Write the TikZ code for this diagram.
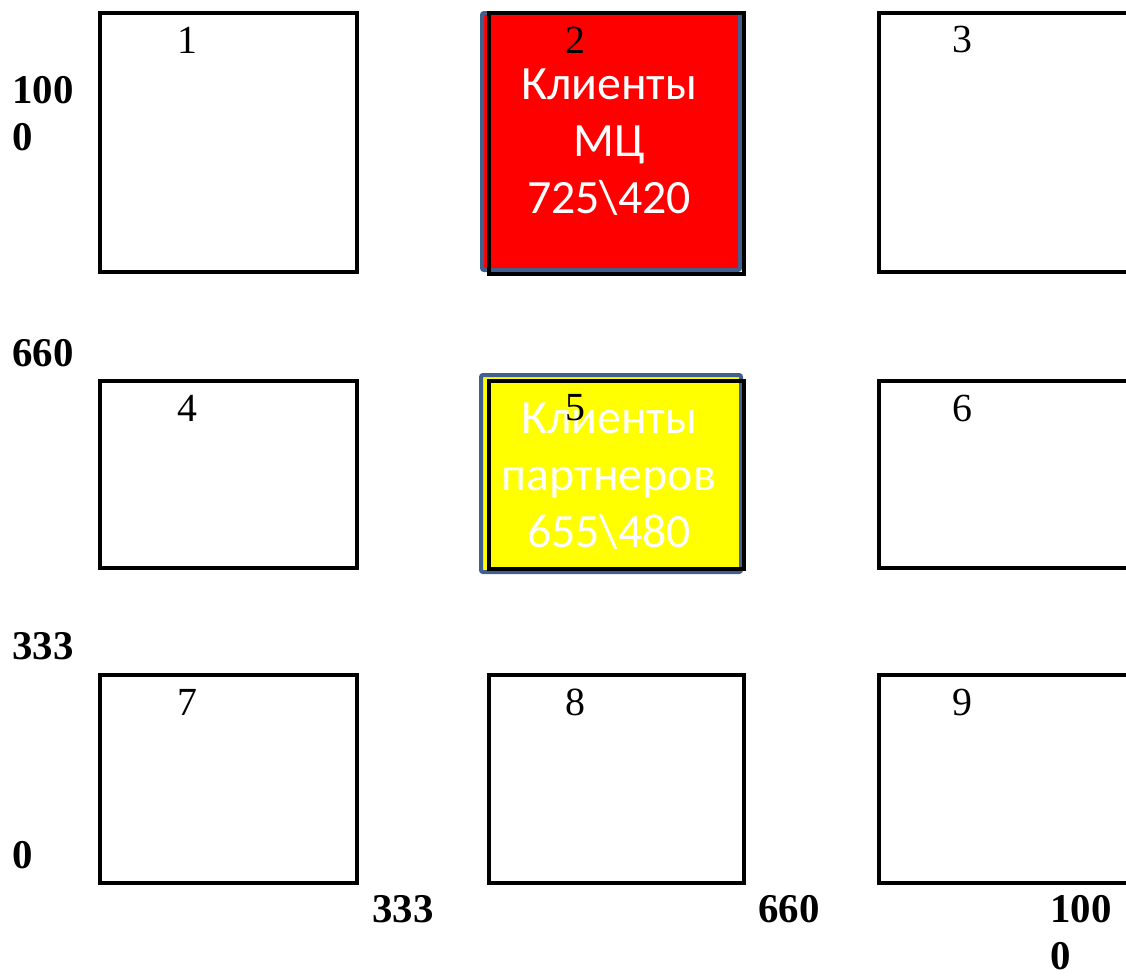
\documentclass[tikz,border=0pt]{standalone}
\usepackage{fontspec}
\setmainfont{Liberation Serif}
\newfontfamily\calibri{Carlito}
\usetikzlibrary{positioning}
\definecolor{frameblue}{HTML}{41608C}
\definecolor{boxred}{HTML}{FF0000}
\definecolor{boxyellow}{HTML}{FFFF00}

\begin{document}
\begin{tikzpicture}[
    x=1bp, y=-1bp,
    cell/.style={rectangle, draw=black, line width=4bp, inner sep=0pt, anchor=north west},
    hilite/.style={rectangle, draw=frameblue, line width=4bp, inner sep=0pt, anchor=north west, rounded corners=2bp},
    cellnum/.style={font=\fontsize{40}{48}\selectfont, inner sep=0pt},
    axislabel/.style={font=\fontsize{41}{47}\selectfont\bfseries, inner sep=0pt, align=left, anchor=north west},
    clienttext/.style={font=\calibri\fontsize{48}{57}\selectfont, text=white, align=center, inner sep=0pt},
]
\clip (0,0) rectangle (1126,976);
% highlighted cells (2 and 5)
\node[hilite, fill=boxred, minimum width=258bp, minimum height=257bp] (hl2) at (480,11) {};
\node[hilite, fill=boxyellow, minimum width=260bp, minimum height=197bp] (hl5) at (479,373) {};
\node[clienttext] (txt2) at (609,142) {Клиенты\\МЦ\\725\textbackslash420};
\node[clienttext] (txt5) at (609,476) {Клиенты\\партнеров\\655\textbackslash480};
% grid of cells
\node[cell, minimum width=257bp, minimum height=259bp] (b1) at (98,11) {};
\node[cell, minimum width=255bp, minimum height=261bp] (b2) at (487,11) {};
\node[cell, minimum width=272bp, minimum height=259bp] (b3) at (877,11) {};
\node[cell, minimum width=257bp, minimum height=187bp] (b4) at (98,379) {};
\node[cell, minimum width=255bp, minimum height=188bp] (b5) at (487,379) {};
\node[cell, minimum width=272bp, minimum height=187bp] (b6) at (877,379) {};
\node[cell, minimum width=257bp, minimum height=208bp] (b7) at (98,673) {};
\node[cell, minimum width=255bp, minimum height=208bp] (b8) at (487,673) {};
\node[cell, minimum width=272bp, minimum height=208bp] (b9) at (877,673) {};
% cell numbers
\node[cellnum] (n1) at (187,40) {1};
\node[cellnum] (n2) at (575,40) {2};
\node[cellnum] (n3) at (962,40) {3};
\node[cellnum] (n4) at (187,408) {4};
\node[cellnum] (n5) at (575,408) {5};
\node[cellnum] (n6) at (962,408) {6};
\node[cellnum] (n7) at (187,702) {7};
\node[cellnum] (n8) at (575,702) {8};
\node[cellnum] (n9) at (962,702) {9};
% axis values
\node[axislabel] (y1000) at (12,76) {100\\0};
\node[axislabel] (y660) at (12,339) {660};
\node[axislabel] (y333) at (12,632) {333};
\node[axislabel] (y0) at (12,841) {0};
\node[axislabel] (x333) at (372,895) {333};
\node[axislabel] (x660) at (758,895) {660};
\node[axislabel] (x1000) at (1050,895) {100\\0};
\end{tikzpicture}
\end{document}
